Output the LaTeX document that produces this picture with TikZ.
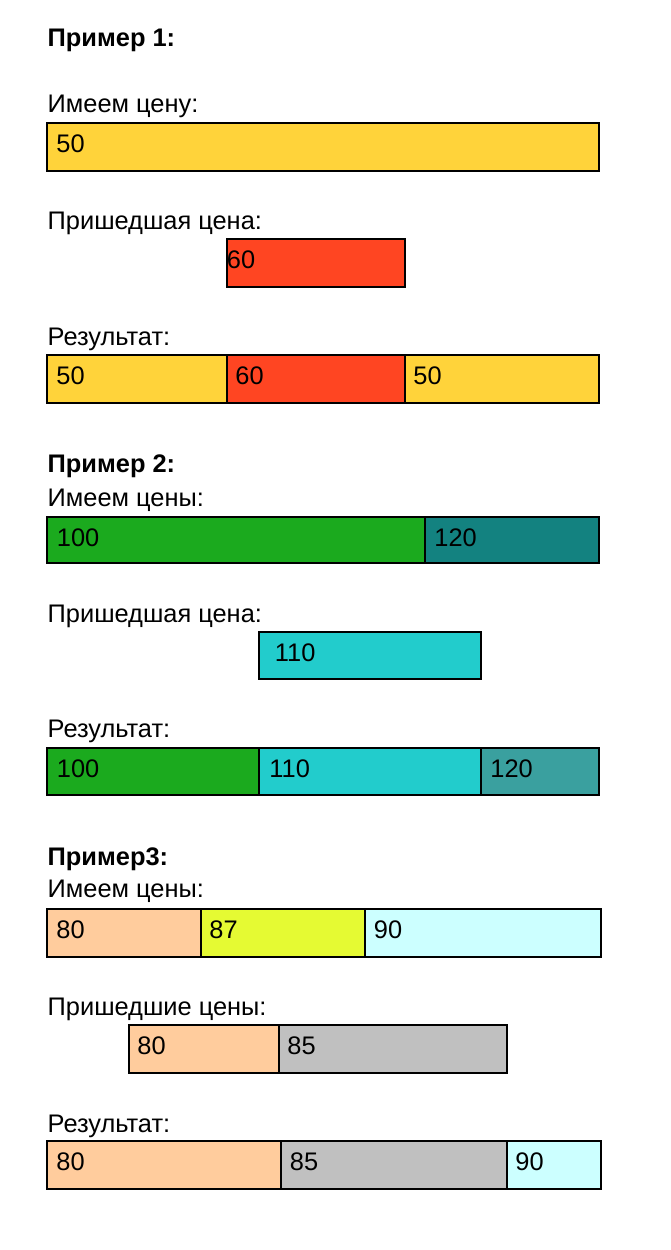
\documentclass[tikz,border=0pt]{standalone}
\usepackage{fontspec}
\setmainfont{Liberation Sans}
\definecolor{cyel}{RGB}{255,211,58}
\definecolor{cred}{RGB}{255,69,34}
\definecolor{cgreen}{RGB}{27,170,30}
\definecolor{cteal}{RGB}{19,130,128}
\definecolor{ccyan}{RGB}{34,204,204}
\definecolor{cteallt}{RGB}{58,160,159}
\definecolor{cpeach}{RGB}{255,204,157}
\definecolor{clime}{RGB}{229,250,51}
\definecolor{clcyan}{RGB}{204,255,255}
\definecolor{cgray}{RGB}{192,192,192}
\tikzset{
  cellbox/.style={draw=black, line width=2pt, rectangle, inner sep=0pt, anchor=north west},
  celltext/.style={inner sep=0pt, anchor=base west, font=\fontsize{25.4}{30}\selectfont},
  lbl/.style={inner sep=0pt, anchor=base west, font=\fontsize{25.4}{30}\selectfont},
  head/.style={inner sep=0pt, anchor=base west, font=\fontsize{25.4}{30}\selectfont\bfseries},
}
% name, x1, x2, top, bottom, colour, pad, text
\newcommand{\pcell}[8]{%
  \node[cellbox, fill=#6, minimum width={(#3-#2)*1pt}, minimum height={(#5-#4)*1pt}] (#1) at ({#2-0.8},{#4-0.8}) {};
  \node[celltext] (#1t) at ({#2+#7-0.8},{#4+30-0.8}) {#8};
}
\begin{document}
\begin{tikzpicture}[x=1pt,y=-1pt]
\useasboundingbox[fill=white] (0,0) rectangle (670,1250);

% Example 1
\node[head] (h1) at (47.5,46) {Пример 1:};
\node[lbl] (a1) at (47.5,112) {Имеем цену:};
\pcell{e1a}{47}{599}{123}{171}{cyel}{10}{50}
\node[lbl] (b1) at (47.5,229) {Пришедшая цена:};
\pcell{e1b}{227}{405}{239}{287}{cred}{0.5}{60}
\node[lbl] (r1) at (47.5,345) {Результат:};
\pcell{e1r1}{47}{227}{355}{403}{cyel}{10}{50}
\pcell{e1r2}{227}{405}{355}{403}{cred}{9}{60}
\pcell{e1r3}{405}{599}{355}{403}{cyel}{9}{50}

% Example 2
\node[head] (h2) at (47.5,472) {Пример 2:};
\node[lbl] (a2) at (47.5,506) {Имеем цены:};
\pcell{e2a1}{47}{425}{517}{563}{cgreen}{10.5}{100}
\pcell{e2a2}{425}{599}{517}{563}{cteal}{10}{120}
\node[lbl] (b2) at (47.5,622) {Пришедшая цена:};
\pcell{e2b}{259}{481}{632}{679}{ccyan}{16.5}{110}
\node[lbl] (r2) at (47.5,737) {Результат:};
\pcell{e2r1}{47}{259}{748}{795}{cgreen}{10.5}{100}
\pcell{e2r2}{259}{481}{748}{795}{ccyan}{11}{110}
\pcell{e2r3}{481}{599}{748}{795}{cteallt}{10}{120}

% Example 3
\node[head] (h3) at (47.5,865) {Пример3:};
\node[lbl] (a3) at (47.5,897) {Имеем цены:};
\pcell{e3a1}{47}{201}{909}{957}{cpeach}{10}{80}
\pcell{e3a2}{201}{365}{909}{957}{clime}{9}{87}
\pcell{e3a3}{365}{601}{909}{957}{clcyan}{9.5}{90}
\node[lbl] (b3) at (47.5,1015) {Пришедшие цены:};
\pcell{e3b1}{129}{279}{1025}{1073}{cpeach}{9}{80}
\pcell{e3b2}{279}{507}{1025}{1073}{cgray}{9}{85}
\node[lbl] (r3) at (47.5,1132) {Результат:};
\pcell{e3r1}{47}{281}{1141}{1189}{cpeach}{10}{80}
\pcell{e3r2}{281}{507}{1141}{1189}{cgray}{9.5}{85}
\pcell{e3r3}{507}{601}{1141}{1189}{clcyan}{9}{90}
\end{tikzpicture}
\end{document}
